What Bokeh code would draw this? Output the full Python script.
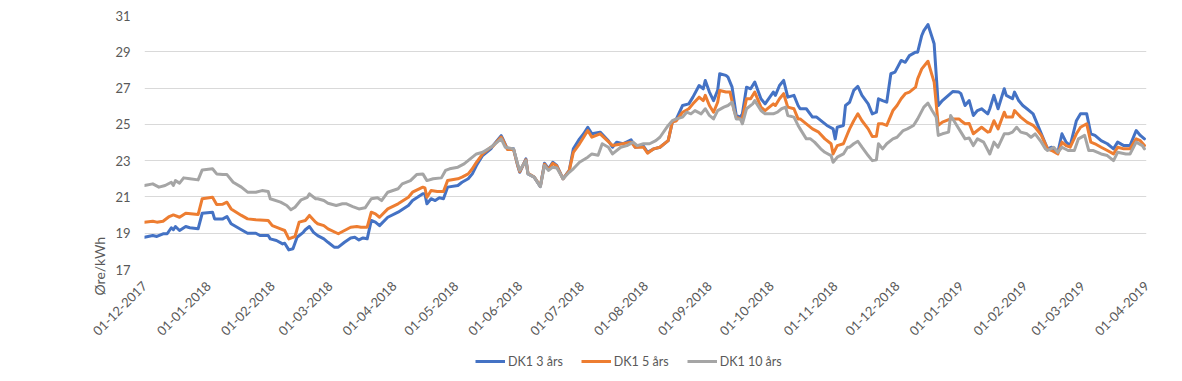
import pandas as pd
from math import pi
from bokeh.plotting import figure
from bokeh.layouts import column
from bokeh.models import FixedTicker, DatetimeTickFormatter, Range1d, Title
from bokeh.embed import file_html
from bokeh.resources import INLINE

START = "2017-12-01"
tick_labels = ["01-12-2017", "01-01-2018", "01-02-2018", "01-03-2018", "01-04-2018",
               "01-05-2018", "01-06-2018", "01-07-2018", "01-08-2018", "01-09-2018",
               "01-10-2018", "01-11-2018", "01-12-2018", "01-01-2019", "01-02-2019",
               "01-03-2019", "01-04-2019"]
y_ticks = [17, 19, 21, 23, 25, 27, 29, 31]
series_names = ["DK1 3 års", "DK1 5 års", "DK1 10 års"]

# days after START
day_3 = [0, 4, 6, 9, 11, 13, 14, 15, 17, 20, 22, 26, 28, 33, 34, 38, 40, 42, 47, 50, 54, 56, 60, 61, 64, 67, 68, 70,
         72, 74, 77, 78, 80, 82, 84, 87, 89, 92, 94, 97, 100, 102, 104, 106, 108, 110, 112, 114, 118, 123, 128, 130,
         135, 136, 137, 139, 141, 143, 145, 147, 152, 154, 157, 159, 161, 164, 168, 169, 173, 174, 176, 179, 181, 182,
         185, 186, 189, 192, 194, 196, 198, 200, 203, 206, 208, 211, 213, 215, 217, 221, 225, 227, 229, 232, 236, 238,
         242, 244, 247, 250, 254, 256, 258, 261, 264, 266, 269, 271, 272, 274, 276, 278, 279, 282, 283, 285, 287, 289,
         290, 292, 294, 296, 299, 301, 305, 306, 308, 310, 312, 315, 317, 318, 321, 324, 326, 329, 331, 334, 335, 336,
         339, 340, 342, 344, 346, 348, 351, 353, 355, 356, 358, 360, 362, 364, 367, 369, 371, 374, 375, 377, 378, 380,
         382, 383, 385, 387, 392, 395, 396, 398, 400, 402, 404, 406, 409, 410, 412, 414, 417, 418, 421, 422, 424, 426,
         428, 431, 432, 435, 438, 440, 443, 445, 447, 449, 452, 454, 457, 459, 461, 464, 467, 470, 472, 475, 478, 481,
         483, 485]
dk1_3 = [18.78, 18.87, 18.82, 18.97, 18.97, 19.30, 19.19, 19.37, 19.15, 19.37, 19.30, 19.24, 20.10, 20.16, 19.79, 19.79,
         19.92, 19.52, 19.19, 19.00, 19.00, 18.87, 18.87, 18.69, 18.60, 18.41, 18.45, 18.08, 18.14, 18.78, 19.05, 19.19,
         19.37, 19.05, 18.87, 18.69, 18.50, 18.23, 18.23, 18.50, 18.74, 18.78, 18.63, 18.74, 18.69, 19.70, 19.61, 19.42,
         19.88, 20.16, 20.53, 20.80, 21.17, 21.17, 20.62, 20.90, 20.80, 20.95, 20.90, 21.54, 21.63, 21.81, 22.00, 22.27,
         22.73, 23.28, 23.65, 23.83, 24.38, 24.15, 23.65, 23.65, 22.73, 22.36, 23.10, 22.27, 22.09, 21.57, 22.86, 22.55,
         22.91, 22.73, 22.00, 22.46, 23.65, 24.20, 24.48, 24.84, 24.48, 24.57, 24.10, 23.74, 24.02, 23.93, 24.15, 23.74,
         23.80, 23.46, 23.65, 23.74, 24.10, 25.12, 25.30, 26.04, 26.13, 26.50, 27.14, 26.96, 27.42, 26.78, 26.31, 26.87,
         27.79, 27.70, 27.60, 27.05, 25.49, 25.40, 25.58, 27.05, 26.96, 27.33, 26.41, 26.13, 26.78, 26.60, 27.14, 27.42,
         26.50, 26.60, 26.04, 25.86, 25.86, 25.40, 25.40, 25.12, 24.94, 24.75, 24.20, 24.84, 24.94, 26.04, 26.22, 26.87,
         27.09, 26.60, 26.13, 25.58, 25.67, 26.41, 26.31, 26.22, 27.79, 27.88, 28.52, 28.42, 28.79, 28.98, 28.98, 29.90,
         30.17, 30.50, 29.80, 29.44, 26.04, 26.31, 26.81, 26.78, 26.69, 26.04, 26.31, 25.49, 25.76, 25.86, 25.58, 25.86,
         26.60, 25.86, 26.96, 26.60, 26.41, 26.78, 26.31, 26.04, 25.86, 25.58, 25.30, 24.48, 23.65, 23.74, 23.46, 24.48,
         24.02, 23.83, 25.20, 25.58, 25.58, 24.48, 24.39, 24.10, 23.93, 23.65, 24.02, 23.83, 23.83, 24.66, 24.39, 24.20]

day_5 = [0, 4, 6, 9, 12, 14, 17, 20, 26, 28, 33, 35, 38, 40, 42, 47, 50, 54, 60, 62, 66, 68, 70, 73, 75, 78, 80, 83, 84,
         87, 89, 94, 97, 100, 103, 105, 108, 110, 112, 114, 118, 123, 128, 130, 135, 136, 137, 139, 142, 145, 147, 152,
         154, 157, 159, 161, 164, 168, 169, 173, 174, 176, 179, 181, 182, 185, 186, 189, 192, 194, 196, 198, 200, 203,
         206, 208, 211, 213, 215, 217, 221, 225, 227, 232, 236, 238, 242, 244, 247, 250, 254, 256, 258, 261, 264, 266,
         269, 271, 272, 274, 276, 278, 279, 282, 284, 286, 287, 289, 290, 292, 294, 296, 299, 301, 305, 306, 308, 310,
         312, 315, 317, 318, 321, 324, 327, 330, 333, 334, 336, 339, 341, 342, 344, 346, 348, 351, 353, 355, 356, 358,
         360, 363, 365, 367, 369, 371, 374, 375, 377, 379, 380, 382, 383, 385, 387, 391, 395, 396, 398, 400, 402, 404,
         406, 409, 410, 412, 414, 417, 418, 421, 422, 425, 428, 431, 432, 435, 438, 440, 443, 445, 447, 449, 452, 454,
         457, 459, 461, 464, 467, 470, 472, 475, 478, 481, 483, 485]
dk1_5 = [19.61, 19.66, 19.61, 19.66, 19.92, 20.01, 19.88, 20.10, 20.03, 20.90, 20.98, 20.58, 20.60, 20.71, 20.34, 19.98,
         19.79, 19.74, 19.70, 19.42, 19.24, 19.15, 18.69, 18.82, 19.61, 19.70, 19.98, 19.61, 19.52, 19.42, 19.24, 18.97,
         19.15, 19.33, 19.37, 19.33, 19.33, 20.16, 20.07, 19.88, 20.34, 20.62, 20.98, 21.26, 21.54, 21.50, 20.98, 21.35,
         21.30, 21.30, 21.90, 22.00, 22.09, 22.27, 22.55, 22.91, 23.37, 23.74, 23.80, 24.30, 24.10, 23.62, 23.62, 22.75,
         22.40, 23.05, 22.30, 22.10, 21.60, 22.80, 22.50, 22.85, 22.70, 22.00, 22.45, 23.46, 23.93, 24.29, 24.66, 24.29,
         24.48, 24.05, 23.83, 23.93, 24.02, 23.74, 23.74, 23.41, 23.65, 23.74, 24.10, 25.12, 25.20, 25.67, 25.86, 26.13,
         26.50, 26.31, 26.60, 26.04, 25.67, 26.22, 26.87, 26.78, 26.78, 25.76, 25.40, 25.30, 25.35, 26.41, 26.41, 26.78,
         25.95, 25.76, 26.13, 26.04, 26.41, 26.69, 25.95, 25.86, 25.30, 25.30, 25.03, 24.75, 24.57, 24.20, 23.93, 23.37,
         23.83, 23.93, 24.48, 24.75, 25.20, 25.58, 25.20, 24.75, 24.33, 24.35, 25.03, 25.03, 24.94, 25.76, 26.04, 26.41,
         26.69, 26.78, 27.05, 27.51, 28.06, 28.34, 28.48, 27.70, 27.33, 24.94, 25.12, 25.30, 25.30, 25.20, 25.03, 25.05,
         24.48, 24.66, 24.84, 24.57, 24.60, 25.20, 24.75, 25.67, 25.40, 25.40, 25.76, 25.40, 25.12, 24.94, 24.84, 24.39,
         23.65, 23.56, 23.37, 24.02, 23.83, 23.74, 24.48, 24.84, 25.03, 24.02, 23.93, 23.74, 23.56, 23.37, 23.74, 23.65,
         23.65, 24.20, 24.10, 23.83]

day_10 = [0, 4, 7, 10, 13, 14, 15, 17, 19, 22, 26, 28, 33, 35, 38, 40, 43, 47, 50, 54, 57, 60, 61, 66, 69, 71, 73, 76,
          79, 80, 83, 84, 87, 89, 93, 96, 98, 101, 104, 107, 110, 113, 115, 118, 123, 125, 129, 132, 135, 137, 140, 144,
          146, 148, 152, 155, 158, 161, 164, 168, 169, 173, 175, 179, 181, 182, 185, 186, 189, 192, 194, 196, 198, 200,
          203, 206, 208, 211, 215, 217, 220, 222, 225, 227, 231, 234, 237, 239, 242, 245, 248, 250, 254, 256, 258, 261,
          263, 265, 267, 270, 272, 274, 276, 278, 281, 283, 285, 287, 289, 290, 292, 295, 296, 299, 301, 305, 307, 309,
          311, 312, 315, 317, 318, 321, 323, 325, 328, 330, 333, 334, 336, 339, 341, 342, 344, 346, 348, 351, 353, 355,
          356, 358, 360, 363, 365, 368, 370, 373, 375, 378, 380, 382, 384, 385, 387, 390, 391, 394, 396, 398, 400, 402,
          404, 407, 410, 412, 414, 417, 419, 421, 423, 425, 428, 430, 432, 435, 437, 438, 441, 443, 445, 448, 451, 453,
          456, 458, 460, 464, 467, 470, 472, 476, 478, 481, 484, 485]
dk1_10 = [21.63, 21.72, 21.54, 21.63, 21.81, 21.63, 21.90, 21.76, 22.05, 22.00, 21.94, 22.49, 22.55, 22.27, 22.23, 22.23,
          21.81, 21.54, 21.26, 21.26, 21.35, 21.30, 20.90, 20.71, 20.53, 20.29, 20.43, 20.84, 20.98, 21.17, 20.90, 20.90,
          20.80, 20.65, 20.53, 20.62, 20.62, 20.47, 20.34, 20.40, 20.90, 20.95, 20.80, 21.26, 21.45, 21.72, 21.90, 22.23,
          22.27, 21.90, 22.00, 22.05, 22.46, 22.55, 22.64, 22.82, 23.10, 23.37, 23.46, 23.74, 23.83, 24.20, 23.74, 23.65,
          22.82, 22.46, 23.00, 22.27, 22.09, 21.57, 22.73, 22.46, 22.64, 22.60, 22.00, 22.36, 22.55, 22.91, 23.19, 23.37,
          23.30, 23.93, 23.74, 23.37, 23.74, 23.83, 24.02, 23.83, 23.93, 23.93, 24.10, 24.29, 24.94, 25.20, 25.30, 25.40,
          25.67, 25.58, 25.76, 25.58, 25.86, 25.49, 25.30, 25.76, 25.95, 26.04, 26.22, 25.30, 25.30, 25.03, 25.86, 26.13,
          26.31, 25.76, 25.58, 25.58, 25.67, 25.86, 25.95, 25.49, 25.40, 24.94, 24.75, 24.20, 24.20, 24.02, 23.65, 23.46,
          23.28, 22.91, 23.19, 23.37, 23.74, 23.74, 23.93, 24.07, 23.74, 23.28, 23.00, 23.05, 23.93, 23.65, 23.93, 24.20,
          24.29, 24.66, 24.75, 24.94, 25.30, 25.95, 26.17, 25.76, 25.40, 24.39, 24.48, 24.57, 25.49, 24.94, 24.57, 24.20,
          24.25, 23.83, 24.20, 24.02, 23.37, 24.02, 23.74, 24.48, 24.48, 24.57, 24.84, 24.57, 24.48, 24.29, 24.48, 24.02,
          23.65, 23.56, 23.74, 23.46, 23.74, 23.56, 23.56, 24.20, 24.39, 23.56, 23.56, 23.37, 23.28, 23.00, 23.46, 23.37,
          23.37, 24.02, 23.83, 23.65]

colors = ["#4472C4", "#ED7D31", "#A5A5A5"]
FONT = "Lato"
TEXT = "#595959"

start = pd.Timestamp(START)
ticks = pd.to_datetime(tick_labels, format="%d-%m-%Y")
tick_ms = [t.value / 1e6 for t in ticks]
series = [(day_3, dk1_3), (day_5, dk1_5), (day_10, dk1_10)]

# ---------------- main chart ----------------
p = figure(width=1166, height=350, x_axis_type="datetime", output_backend="svg", toolbar_location=None,
           x_range=Range1d(ticks[0], ticks[-1]), y_range=Range1d(17, 31),
           min_border_left=144, min_border_right=20, min_border_top=15, min_border_bottom=81)
p.outline_line_color = None
p.background_fill_color = "white"

for (days, vals), col in zip(series, colors):
    xs = [start + pd.Timedelta(days=d) for d in days]
    p.line(xs, vals, line_width=3, line_color=col, line_join="round", line_cap="round")

p.xgrid.grid_line_color = None
p.ygrid.grid_line_color = "#D9D9D9"
p.ygrid.grid_line_width = 1

p.yaxis.ticker = FixedTicker(ticks=y_ticks)
p.xaxis.ticker = FixedTicker(ticks=tick_ms)
fmt = "%d-%m-%Y"
p.xaxis.formatter = DatetimeTickFormatter(milliseconds=fmt, seconds=fmt, minsec=fmt, minutes=fmt, hourmin=fmt,
                                          hours=fmt, days=fmt, months=fmt, years=fmt)
p.xaxis.major_label_orientation = pi / 4
for ax in (p.xaxis, p.yaxis):
    ax.axis_line_color = None
    ax.major_tick_line_color = None
    ax.minor_tick_line_color = None
    ax.major_tick_out = 0
    ax.major_tick_in = 0
    ax.major_label_text_font = FONT
    ax.major_label_text_font_size = "13px"
    ax.major_label_text_color = TEXT
p.yaxis.major_label_standoff = 14
p.xaxis.major_label_standoff = 14

ytitle = Title(text="Øre/kWh", align="left", offset=-26, standoff=10, text_font=FONT,
               text_font_size="14px", text_font_style="normal", text_color=TEXT)
p.add_layout(ytitle, "left")

# ---------------- legend strip (series drawn outside its visible range) ----------------
lf = figure(width=1166, height=25, output_backend="svg", toolbar_location=None,
            x_range=Range1d(0, 1), y_range=Range1d(0, 1), min_border=0)
lf.outline_line_color = None
lf.axis.visible = False
lf.grid.visible = False
for (days, vals), name, col in zip(series, series_names, colors):
    xs = [start + pd.Timedelta(days=d) for d in days]
    lf.line(xs, vals, line_width=3, line_color=col, legend_label=name)

lg = lf.legend[0]
lg.location = (331, 6)
lg.orientation = "horizontal"
lg.border_line_color = None
lg.background_fill_alpha = 0
lg.padding = 0
lg.margin = 0
lg.spacing = 18
lg.glyph_width = 30
lg.glyph_height = 16
lg.label_height = 16
lg.label_standoff = 3
lg.label_text_font = FONT
lg.label_text_font_size = "12.5px"
lg.label_text_color = TEXT

open("out.html", "w").write(file_html(column(p, lf), INLINE))
